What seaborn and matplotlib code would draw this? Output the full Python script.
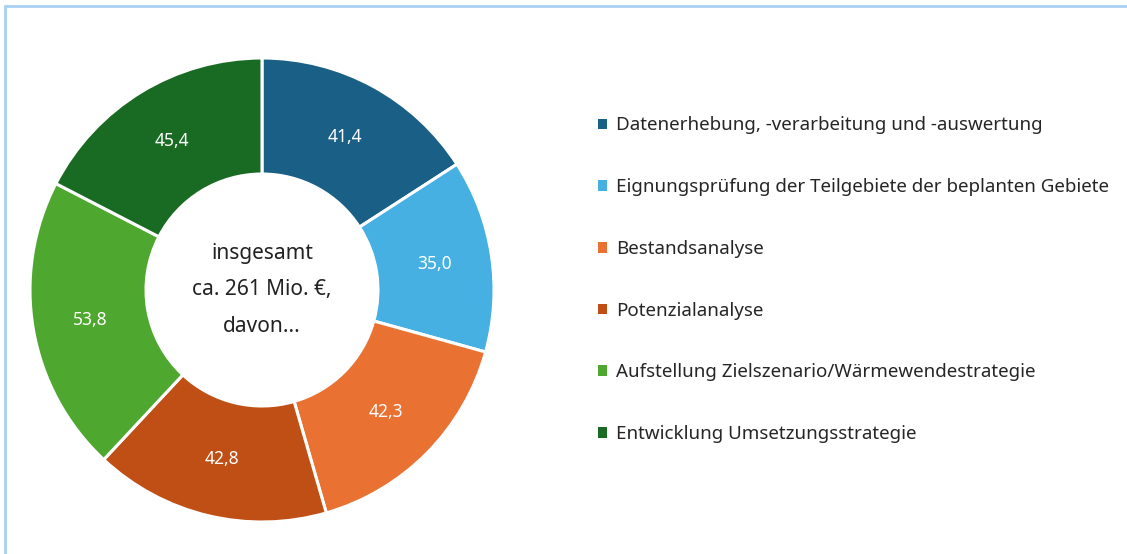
import matplotlib.pyplot as plt
import matplotlib.lines as mlines
import seaborn as sns

# Data (Mio. €)
categories = [
    'Datenerhebung, -verarbeitung und -auswertung',
    'Eignungsprüfung der Teilgebiete der beplanten Gebiete',
    'Bestandsanalyse',
    'Potenzialanalyse',
    'Aufstellung Zielszenario/Wärmewendestrategie',
    'Entwicklung Umsetzungsstrategie',
]
values = [41.4, 35.0, 42.3, 42.8, 53.8, 45.4]
colors = ['#1a5f85', '#45b0e1', '#e97132', '#c04f15', '#4ea72e', '#196b24']
center_text = 'insgesamt\nca. 261 Mio. €,\ndavon...'

sns.set_theme(style='white')
plt.rcParams['font.family'] = ['Noto Sans', 'DejaVu Sans']

W, H = 1127, 554
fig = plt.figure(figsize=(W / 100, H / 100), dpi=100)
fig.patch.set_facecolor('white')

# donut axes, centre at (262, 290) px
cx, cy, half = 262, 290, 240
ax = fig.add_axes([(cx - half) / W, (H - cy - half) / H, 2 * half / W, 2 * half / H])
radius = 232 / half

wedges, _, autotexts = ax.pie(
    values, colors=colors, startangle=90, counterclock=False, radius=radius,
    autopct=lambda p: f'{p * sum(values) / 100:.1f}'.replace('.', ','),
    pctdistance=0.75,
    wedgeprops=dict(width=radius * 0.5, edgecolor='white', linewidth=2.2),
    textprops=dict(color='white', fontsize=12.5),
)
ax.set_xlim(-1, 1)
ax.set_ylim(-1, 1)
ax.set_aspect('equal')

ax.text(0, 0, center_text, ha='center', va='center', fontsize=15,
        color='#222222', linespacing=1.95)

leg = fig.legend(wedges, categories, loc='upper left',
                 bbox_to_anchor=(590 / W, 1 - 109 / H),
                 frameon=False, fontsize=13.5, handlelength=0.5, handleheight=0.5,
                 handletextpad=0.5, labelspacing=2.33, borderaxespad=0)
for t in leg.get_texts():
    t.set_color('#262626')
for h in leg.legend_handles:
    h.set_edgecolor('none')

# thin light-blue frame at top and left
fig.add_artist(mlines.Line2D([5 / W, 1], [1 - 6 / H, 1 - 6 / H], color='#a9d0f2',
                             linewidth=2, transform=fig.transFigure))
fig.add_artist(mlines.Line2D([5 / W, 5 / W], [0, 1 - 6 / H], color='#a9d0f2',
                             linewidth=2, transform=fig.transFigure))

fig.savefig('out.png', dpi=100, facecolor='white')
